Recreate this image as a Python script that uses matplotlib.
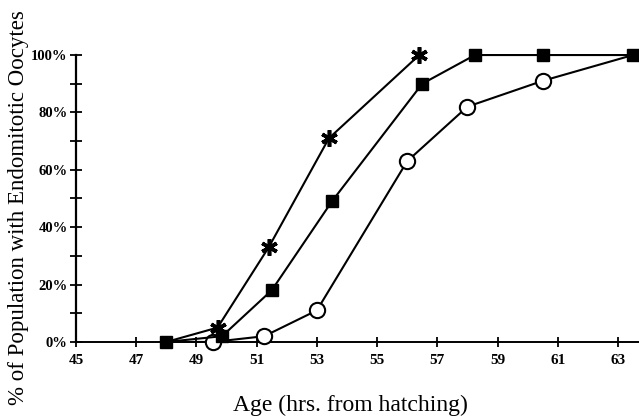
import matplotlib
matplotlib.use("Agg")
import matplotlib.pyplot as plt

# series
star_x = [48.0, 49.7, 51.4, 53.4, 56.4]
star_y = [0, 5, 33, 71, 100]

square_x = [48.0, 49.85, 51.5, 53.5, 56.5, 58.25, 60.5, 63.5]
square_y = [0, 2, 18, 49, 90, 100, 100, 100]

circle_x = [48.0, 49.55, 51.25, 53.0, 56.0, 58.0, 60.5, 63.5]
circle_y = [0, 0, 2, 11, 63, 82, 91, 100]

xticks = [45, 47, 49, 51, 53, 55, 57, 59, 61, 63]
yticks = [0, 20, 40, 60, 80, 100]
yminor = [10, 30, 50, 70, 90]

plt.rcParams['font.family'] = ['Liberation Serif', 'DejaVu Serif']

fig = plt.figure(figsize=(6.39, 4.17), dpi=100)
ax = fig.add_axes([0.119, 0.18, 0.881, 0.688])

# first and last points of circles / first of stars are shared with squares
ax.plot(circle_x, circle_y, color='black', lw=1.5, marker='o', ms=11,
        mfc='white', mec='black', mew=1.5, markevery=list(range(1, 7)),
        zorder=3, clip_on=False)
ax.plot(square_x, square_y, color='black', lw=1.5, marker='s', ms=9,
        mfc='black', mec='black', zorder=4, clip_on=False)
ax.plot(star_x, star_y, color='black', lw=1.5, zorder=5, clip_on=False)
ax.plot(star_x[1:], star_y[1:], ls='none', marker=(6, 2, 0), ms=12, mew=2.6,
        mec='black', zorder=6, clip_on=False)

ax.set_xlim(45, 63.7)
ax.set_ylim(0, 100)
ax.set_xticks(xticks)
ax.set_xticklabels([str(t) for t in xticks], fontsize=11, fontweight='bold')
ax.set_yticks(yticks)
ax.set_yticklabels([f"{t}%" for t in yticks], fontsize=10.5, fontweight='bold')
ax.set_yticks(yminor, minor=True)
ax.tick_params(axis='both', which='both', direction='inout', width=1.3)
ax.tick_params(axis='x', length=7, pad=5)
ax.tick_params(axis='y', which='both', length=8, pad=2)

for s in ['top', 'right']:
    ax.spines[s].set_visible(False)
ax.spines['left'].set_linewidth(1.6)
ax.spines['bottom'].set_linewidth(1.4)

ax.set_xlabel('Age (hrs. from hatching)', fontsize=17)
ax.xaxis.set_label_coords(0.487, -0.185)
ax.set_ylabel('% of Population with Endomitotic Oocytes', fontsize=16.5)
ax.yaxis.set_label_coords(-0.083, 0.467)

fig.savefig('out.png', dpi=100)
